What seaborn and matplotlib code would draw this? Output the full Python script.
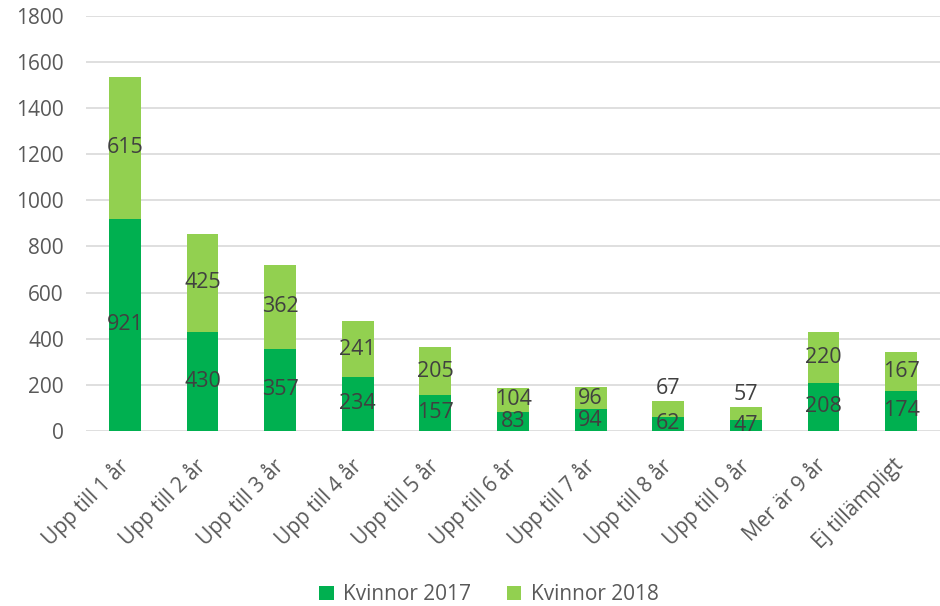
import numpy as np
import pandas as pd
import seaborn as sns
import matplotlib.pyplot as plt
from matplotlib.transforms import ScaledTranslation

categories = ["Upp till 1 år", "Upp till 2 år", "Upp till 3 år", "Upp till 4 år",
              "Upp till 5 år", "Upp till 6 år", "Upp till 7 år", "Upp till 8 år",
              "Upp till 9 år", "Mer är 9 år", "Ej tillämpligt"]
kvinnor_2017 = [921, 430, 357, 234, 157, 83, 94, 62, 47, 208, 174]
kvinnor_2018 = [615, 425, 362, 241, 205, 104, 96, 67, 57, 220, 167]
yticks = [0, 200, 400, 600, 800, 1000, 1200, 1400, 1600, 1800]

dark_green = "#00B050"
light_green = "#92D050"
tick_col = "#595959"
label_col = "#404040"

sns.set_style("white")
plt.rcParams["font.family"] = ["Open Sans", "DejaVu Sans"]

df = pd.DataFrame({"kat": categories, "k2017": kvinnor_2017, "k2018": kvinnor_2018})

fig = plt.figure(figsize=(9.4, 6.06), dpi=100)
ax = fig.add_axes([0.0915, 0.289, 0.9085, 0.6846])

sns.barplot(data=df, x="kat", y="k2017", color=dark_green, width=0.41,
            saturation=1, linewidth=0, ax=ax, label="Kvinnor 2017")
sns.barplot(data=df, x="kat", y="k2018", bottom=df["k2017"], color=light_green,
            width=0.41, saturation=1, linewidth=0, ax=ax, label="Kvinnor 2018")
handles, labels = ax.get_legend_handles_labels()
if ax.get_legend() is not None:
    ax.get_legend().remove()

# data labels, centred in each segment; small top segments go above the bar
for i, (a, b) in enumerate(zip(kvinnor_2017, kvinnor_2018)):
    ax.text(i, a / 2, str(a), ha="center", va="center", fontsize=15.5, color=label_col)
    if b < 80:
        ax.text(i, a + b + 8, str(b), ha="center", va="bottom", fontsize=15.5, color=label_col)
    else:
        ax.text(i, a + b / 2, str(b), ha="center", va="center", fontsize=15.5, color=label_col)

ax.set_ylim(0, 1800)
ax.set_xlim(-0.5, len(categories) - 0.5)
ax.set_yticks(yticks)
ax.set_yticklabels([str(t) for t in yticks], fontsize=15, color=tick_col)
ax.set_xticks(range(len(categories)))
ax.set_xticklabels(categories, rotation=45, ha="right", rotation_mode="anchor",
                   fontsize=15, color=tick_col)
ax.tick_params(axis="both", length=0)
ax.tick_params(axis="y", pad=16)
ax.tick_params(axis="x", pad=10)
shift = ScaledTranslation(-0.08, -0.10, fig.dpi_scale_trans)
for lab in ax.get_xticklabels():
    lab.set_transform(lab.get_transform() + shift)
ax.yaxis.grid(True, color="#D9D9D9", linewidth=1.2)
ax.set_axisbelow(True)
for s in ax.spines.values():
    s.set_visible(False)
ax.set_xlabel("")
ax.set_ylabel("")

fig.legend(handles, labels, loc="lower center", ncol=2, frameon=False,
           fontsize=15, labelcolor=tick_col, handlelength=0.7, handleheight=0.7,
           columnspacing=1.7, handletextpad=0.45, bbox_to_anchor=(0.52, -0.03))

fig.savefig("out.png", dpi=100)
